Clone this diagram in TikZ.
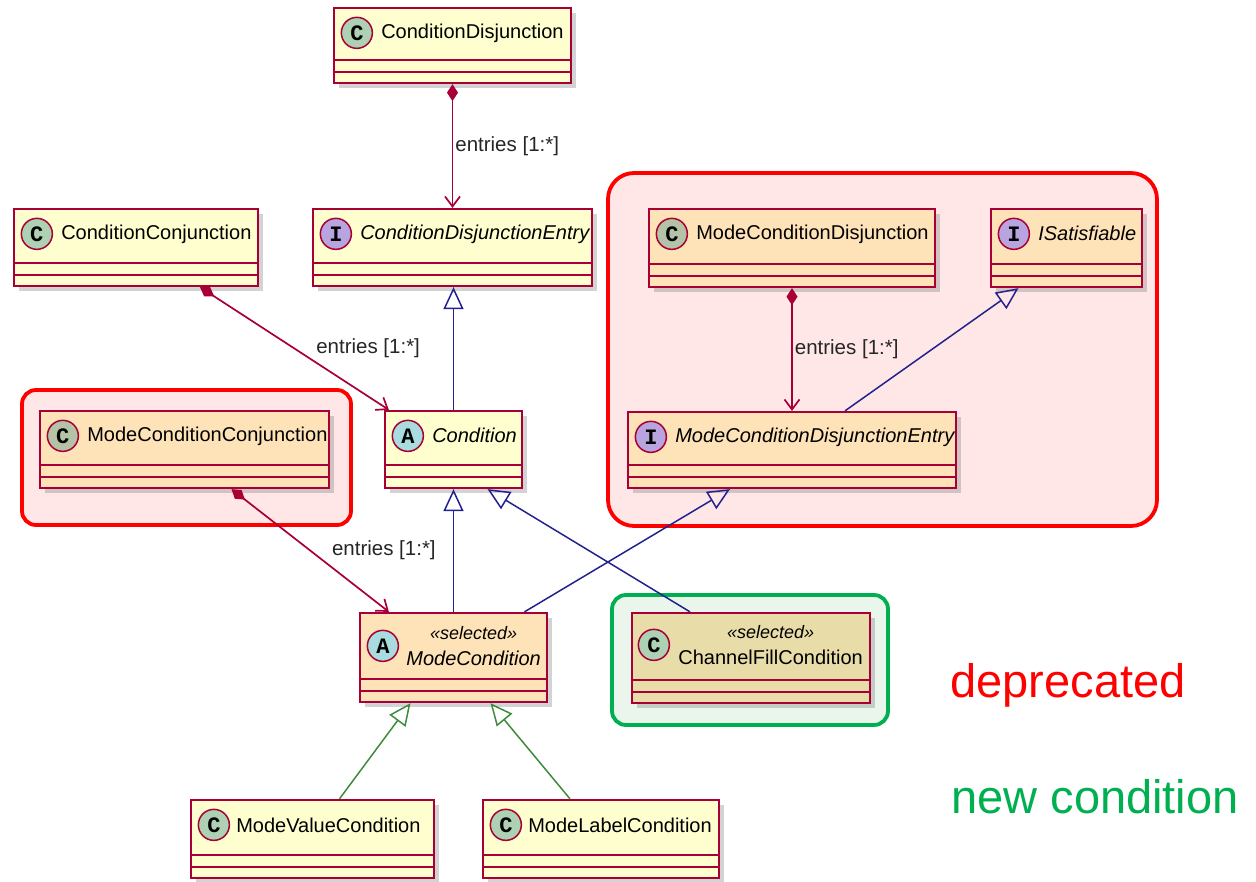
\documentclass[tikz,border=0pt]{standalone}
\usepackage{fontspec}
\setmainfont{Liberation Sans}
\setmonofont{Liberation Mono}
\usetikzlibrary{arrows.meta,shadows,calc}

\definecolor{border}{HTML}{A80036}
\definecolor{classyellow}{HTML}{FEFECE}
\definecolor{peach}{HTML}{FFE3B8}
\definecolor{khaki}{HTML}{E8DCA8}
\definecolor{cgreen}{HTML}{ADD1B2}
\definecolor{cgrey}{HTML}{B4C2A6}
\definecolor{aturq}{HTML}{A9DCDF}
\definecolor{ipurple}{HTML}{B8A4DE}
\definecolor{genblue}{HTML}{22228F}
\definecolor{gengreen}{HTML}{3D8B3D}
\definecolor{oldred}{HTML}{FF0000}
\definecolor{newgreen}{HTML}{00B050}
\definecolor{oldfill}{HTML}{FFE7E7}
\definecolor{newfill}{HTML}{EAF5EC}

% two empty compartments under the header
\newcommand{\parts}[1]{\draw[line width=2pt, border] ([yshift=24pt]#1.south west) -- ([yshift=24pt]#1.south east) ([yshift=12pt]#1.south west) -- ([yshift=12pt]#1.south east);}

\begin{document}
\begin{tikzpicture}[x=1pt, y=-1pt, font=\fontsize{20}{26}\selectfont,
  main/.style = {draw=border, line width=2.3pt, rectangle, inner sep=0pt, drop shadow={shadow xshift=5pt, shadow yshift=-5pt, opacity=0.35}},
  icon/.style = {draw=border, line width=1.5pt, circle, minimum size=31pt, inner sep=0pt, font=\fontsize{22}{22}\selectfont\ttfamily\bfseries},
  title/.style = {anchor=west, inner sep=0pt},
  group/.style = {line width=3.8pt, rounded corners=14pt},
  has/.style = {border, line width=1.7pt, {Diamond[length=17pt,width=11pt]}-{Straight Barb[length=10pt,width=15pt,line width=1.7pt]}},
  is/.style = {genblue, line width=1.5pt, -{Triangle[open, length=22pt, width=20pt]}},
  entries/.style = {font=\fontsize{20.5}{24}\selectfont, text=black!85, inner sep=2pt}]
\useasboundingbox (0,0) rectangle (1256,882);

% marked groups
\draw[group, draw=oldred, fill=oldfill] (22,390) rectangle (351,525);
\draw[group, draw=oldred, fill=oldfill, rounded corners=26pt] (608,173) rectangle (1157,526);
\draw[group, draw=newgreen, fill=newfill] (612,595) rectangle (888,725);

% classes
\node[main, fill=classyellow, minimum width=237pt, minimum height=75pt] (1) at (452.5,45.5) {};
\node[icon, fill=cgreen] (1i) at ([xshift=24pt, yshift=-26pt]1.north west) {C};
\node[title] (1n) at ([xshift=8pt]1i.east) {ConditionDisjunction};
\parts{1}

\node[main, fill=classyellow, minimum width=244pt, minimum height=77pt] (2) at (136,247.5) {};
\node[icon, fill=cgreen] (2i) at ([xshift=24pt, yshift=-26pt]2.north west) {C};
\node[title] (2n) at ([xshift=8pt]2i.east) {ConditionConjunction};
\parts{2}

\node[main, fill=classyellow, minimum width=279pt, minimum height=77pt] (3) at (452.5,247.5) {};
\node[icon, fill=ipurple] (3i) at ([xshift=24pt, yshift=-26pt]3.north west) {I};
\node[title] (3n) at ([xshift=8pt]3i.east) {\itshape ConditionDisjunctionEntry};
\parts{3}

\node[main, fill=peach, minimum width=286pt, minimum height=78pt] (4) at (792,248) {};
\node[icon, fill=cgrey] (4i) at ([xshift=24pt, yshift=-26pt]4.north west) {C};
\node[title] (4n) at ([xshift=8pt]4i.east) {ModeConditionDisjunction};
\parts{4}

\node[main, fill=peach, minimum width=151pt, minimum height=78pt] (5) at (1066.5,248) {};
\node[icon, fill=ipurple] (5i) at ([xshift=24pt, yshift=-26pt]5.north west) {I};
\node[title] (5n) at ([xshift=8pt]5i.east) {\itshape ISatisfiable};
\parts{5}

\node[main, fill=peach, minimum width=328pt, minimum height=76pt] (6) at (792,450) {};
\node[icon, fill=ipurple] (6i) at ([xshift=24pt, yshift=-26pt]6.north west) {I};
\node[title] (6n) at ([xshift=8pt]6i.east) {\itshape ModeConditionDisjunctionEntry};
\parts{6}

\node[main, fill=classyellow, minimum width=137pt, minimum height=77pt] (7) at (453.5,449.5) {};
\node[icon, fill=aturq] (7i) at ([xshift=24pt, yshift=-26pt]7.north west) {A};
\node[title] (7n) at ([xshift=8pt]7i.east) {\itshape Condition};
\parts{7}

\node[main, fill=peach, minimum width=289pt, minimum height=77pt] (8) at (184.5,449.5) {};
\node[icon, fill=cgrey] (8i) at ([xshift=24pt, yshift=-26pt]8.north west) {C};
\node[title] (8n) at ([xshift=8pt]8i.east) {ModeConditionConjunction};
\parts{8}

\node[main, fill=peach, minimum width=187pt, minimum height=89pt] (9) at (453.5,657.5) {};
\node[icon, fill=aturq] (9i) at ([xshift=24pt, yshift=-34pt]9.north west) {A};
\node[inner sep=0pt, align=center] (9n) at ($(9i.east)!0.5!(9i.east -| 9.east)$) {{\fontsize{18}{26}\selectfont\itshape «selected»}\\\itshape ModeCondition};
\parts{9}

\node[main, fill=khaki, minimum width=238pt, minimum height=90pt] (10) at (751,658) {};
\node[icon, fill=cgreen] (10i) at ([xshift=23pt, yshift=-33pt]10.north west) {C};
\node[inner sep=0pt, align=center] (10n) at ($(10i.east)!0.5!(10i.east -| 10.east)$) {{\fontsize{18}{26}\selectfont\itshape «selected»}\\ChannelFillCondition};
\parts{10}

\node[main, fill=classyellow, minimum width=243pt, minimum height=78pt] (11) at (312.5,839) {};
\node[icon, fill=cgreen] (11i) at ([xshift=24pt, yshift=-26pt]11.north west) {C};
\node[title] (11n) at ([xshift=6pt]11i.east) {ModeValueCondition};
\parts{11}

\node[main, fill=classyellow, minimum width=236pt, minimum height=78pt] (12) at (601,839) {};
\node[icon, fill=cgreen] (12i) at ([xshift=24pt, yshift=-26pt]12.north west) {C};
\node[title] (12n) at ([xshift=6pt]12i.east) {ModeLabelCondition};
\parts{12}

% relations
\draw[has] (1.south) -- node[entries, right] {entries [1:*]} (3.north);
\draw[has] ([xshift=64pt]2.south) -- node[entries, anchor=west, xshift=19pt] {entries [1:*]} ([xshift=5pt]7.north west);
\draw[is] (7.north) -- (7.north |- 3.south);
\draw[has] (4.south) -- node[entries, right] {entries [1:*]} (4.south |- 6.north);
\draw[is] ([xshift=53pt]6.north) -- ([xshift=-48pt]5.south);
\draw[is] ([xshift=71pt]9.north) -- ([xshift=-62pt]6.south);
\draw[has] ([xshift=47pt]8.south) -- node[entries, anchor=west, xshift=19pt] {entries [1:*]} ([xshift=30pt]9.north west);
\draw[is] (9.north) -- (9.north |- 7.south);
\draw[is] ([xshift=-61pt]10.north) -- ([xshift=34pt]7.south);
\draw[is, gengreen] ([xshift=27pt]11.north) -- ([xshift=-43pt]9.south);
\draw[is, gengreen] ([xshift=-31pt]12.north) -- ([xshift=37pt]9.south);

% legend
\node[text=oldred, font=\fontsize{47}{50}\selectfont] (old) at (1068,685) {deprecated};
\node[text=newgreen, font=\fontsize{47}{50}\selectfont] (new) at (1095,797) {new condition};
\end{tikzpicture}
\end{document}
